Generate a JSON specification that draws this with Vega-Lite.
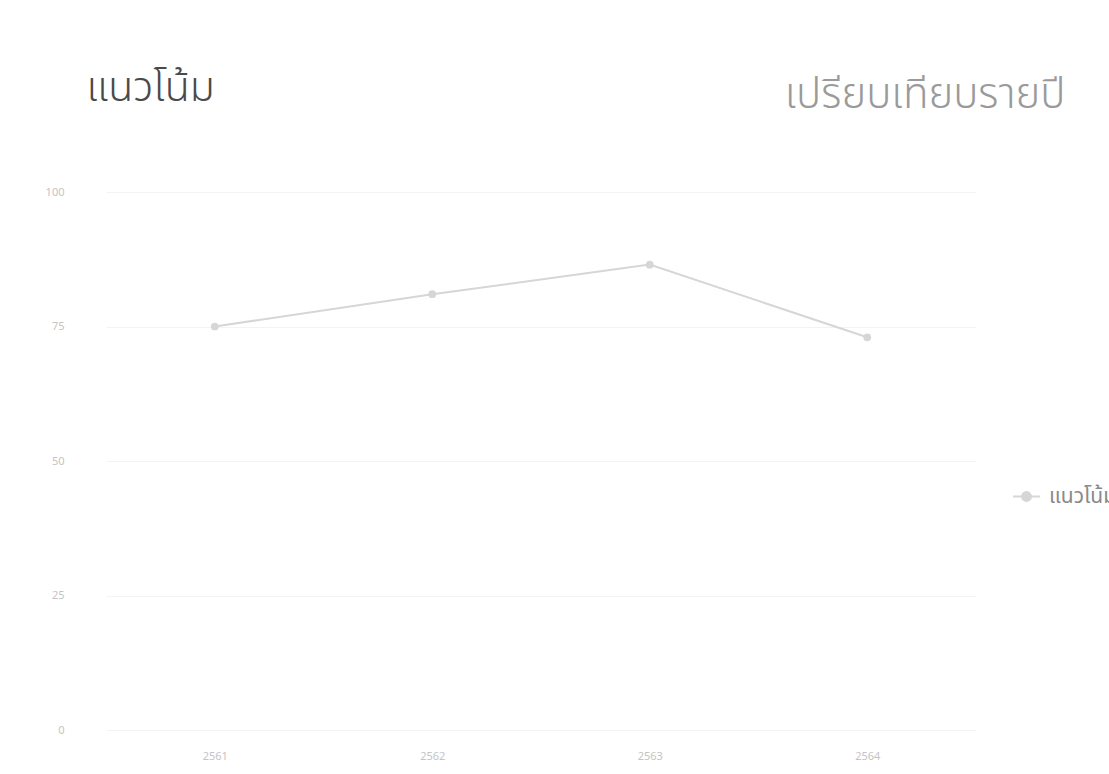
{
  "$schema": "https://vega.github.io/schema/vega-lite/v6.json",
  "width": 870,
  "height": 538,
  "autosize": {"type": "none"},
  "padding": {"left": 106, "top": 192, "right": 133, "bottom": 44},
  "background": "white",
  "config": {"view": {"stroke": null}, "font": "Noto Sans"},
  "data": {
    "values": [
      {"year": "2561", "value": 75, "series": "แนวโน้ม"},
      {"year": "2562", "value": 81, "series": "แนวโน้ม"},
      {"year": "2563", "value": 86.5, "series": "แนวโน้ม"},
      {"year": "2564", "value": 73, "series": "แนวโน้ม"}
    ]
  },
  "layer": [
    {
      "mark": {"type": "line", "strokeWidth": 2, "point": {"filled": true, "size": 60}},
      "encoding": {
        "x": {
          "field": "year", "type": "ordinal",
          "axis": {"title": null, "labelAngle": 0, "ticks": false, "domain": false, "grid": false, "labelPadding": 20, "labelFontSize": 11, "labelColor": "#c4c4c4"}
        },
        "y": {
          "field": "value", "type": "quantitative",
          "scale": {"domain": [0, 100]},
          "axis": {
            "values": [0, 25, 50, 75, 100], "ticks": false, "domain": false, "gridColor": "#f3f3f3", "labelPadding": 42, "labelFontSize": 11, "labelColor": "#c4c4c4",
            "title": "แนวโน้ม", "titleFont": "Noto Sans Thai, Noto Sans", "titleAngle": 0, "titleX": -20, "titleY": -104, "titleAlign": "left", "titleBaseline": "middle", "titleFontSize": 41, "titleFontWeight": 350, "titleColor": "#4a4a4a"
          }
        },
        "color": {
          "field": "series", "type": "nominal",
          "scale": {"range": ["#d6d6d6"]},
          "legend": {
            "title": null, "orient": "none", "legendX": 910, "legendY": 294,
            "symbolType": "M-1.5,0L1.5,0M-0.5,0a0.5,0.5 0 1,0 1,0a0.5,0.5 0 1,0 -1,0",
            "symbolSize": 320, "symbolStrokeColor": "#d6d6d6", "symbolFillColor": "#d6d6d6", "symbolStrokeWidth": 2,
            "labelFont": "Noto Sans Thai, Noto Sans", "labelFontSize": 21, "labelColor": "#8a8a8a", "labelOffset": 12
          }
        }
      }
    },
    {
      "mark": {"type": "line", "opacity": 0},
      "encoding": {
        "x": {
          "field": "year", "type": "ordinal",
          "axis": {"orient": "top", "labels": false, "ticks": false, "domain": false, "grid": false,
            "title": "เปรียบเทียบรายปี", "titleFont": "Noto Sans Thai, Noto Sans", "titleX": 959, "titleY": -98, "titleAlign": "right", "titleBaseline": "middle", "titleFontSize": 42, "titleFontWeight": 300, "titleColor": "#9a9a9a"}
        },
        "y": {"field": "value", "type": "quantitative"}
      }
    }
  ],
  "resolve": {"axis": {"x": "independent"}}
}
